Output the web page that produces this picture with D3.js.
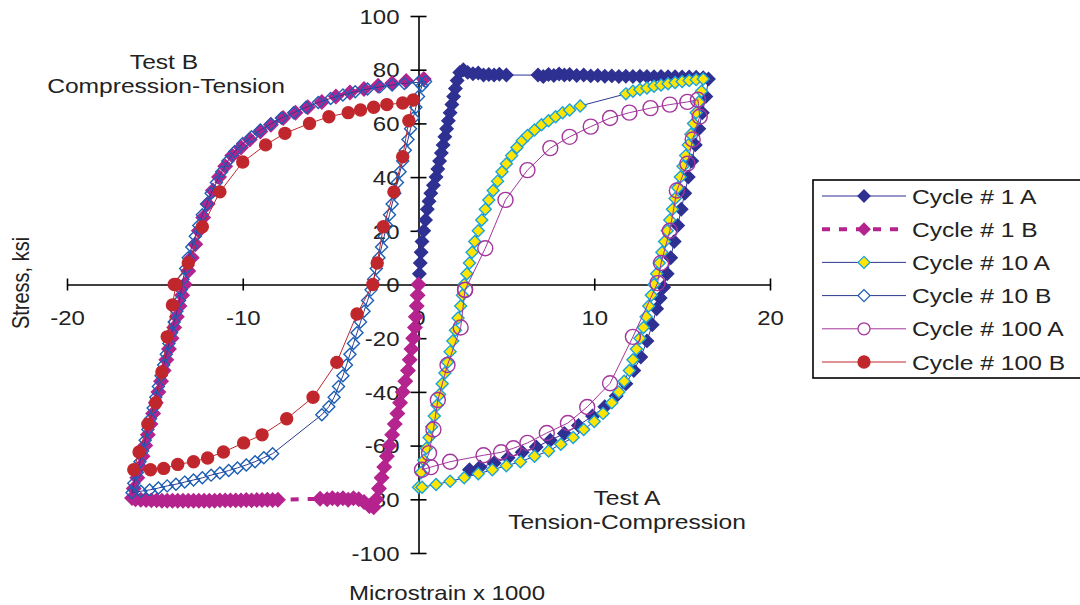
<!DOCTYPE html>
<html>
<head>
<meta charset="utf-8">
<script src="https://cdn.jsdelivr.net/npm/d3@7"></script>
<style>
  body { margin: 0; background: #fff; }
  svg { font-family: "Liberation Sans", Arial, sans-serif; }
</style>
</head>
<body>
<div id="chart"></div>
<script>
// chart values, [strain x1000, stress ksi]

var xTicks = [-20, -10, 0, 10, 20];
var yTicks = [-100, -80, -60, -40, -20, 0, 20, 40, 60, 80, 100];

var seriesNames = ["Cycle # 1 A", "Cycle # 1 B", "Cycle # 10 A", "Cycle # 10 B", "Cycle # 100 A", "Cycle # 100 B"];

var cycle1A = [[0,0],[0.05,4],[0.1,8],[0.15,12],[0.2,16],[0.3,20],[0.4,24],[0.5,28],[0.6,31],[0.7,34],[0.85,37],[1.0,40],
  [1.1,43],[1.2,46],[1.3,49],[1.4,52],[1.5,55],[1.6,58],[1.7,61],[1.8,64],[1.9,67],[2.0,70],[2.1,73],[2.2,76],[2.35,79],
  [2.55,80],[2.8,79],[3.1,78.5],[3.4,78.8],[3.7,78],[4.0,78.2],[4.3,78],[4.6,78.3],[5.0,78],[6.8,78],[7.1,77.5],[7.4,78.2],
  [7.7,77.8],[8.0,78.4],[8.3,78],[8.6,78.2],[9.0,77.8],[9.4,78],[9.8,77.7],[10.2,77.8],[10.6,77.6],[11.0,77.7],[11.4,77.5],
  [11.8,77.6],[12.2,77.5],[12.6,77.6],[13.0,77.5],[13.4,77.4],[13.8,77.5],[14.2,77.4],[14.6,77.4],[15.0,77.3],[15.4,77.3],
  [15.8,77.2],[16.2,77],[16.5,76.5],[16.35,70],[16.15,64],[15.95,58],[15.75,52],[15.55,46],[15.35,40],[15.15,34],
  [14.95,28],[14.75,22],[14.55,16],[14.35,10],[14.15,4],[13.95,-1],[13.75,-5],[13.55,-9],[13.3,-15],[13.0,-21],
  [12.65,-27],[12.25,-32],[11.8,-37],[11.25,-41.5],[10.6,-45.5],[9.9,-49],[9.1,-52.5],[8.3,-55.5],[7.5,-58],[6.7,-60.5],
  [5.9,-62.5],[5.1,-64.5],[4.3,-66.5],[3.5,-68],[2.9,-69]];

var cycle1B = [[0,0],[-0.05,-4],[-0.1,-8],[-0.15,-12],[-0.2,-16],[-0.3,-20],[-0.4,-24],[-0.5,-28],[-0.6,-32],[-0.75,-36],
  [-0.9,-40],[-1.05,-44],[-1.2,-48],[-1.35,-52],[-1.5,-56],[-1.65,-60],[-1.8,-64],[-1.95,-68],[-2.1,-72],[-2.25,-76],
  [-2.4,-80],[-2.55,-83],[-2.8,-82.5],[-3.1,-81],[-3.4,-80],[-3.7,-79.6],[-4.0,-80.2],[-4.3,-79.6],[-4.6,-80],[-4.9,-79.6],
  [-5.2,-80],[-5.6,-79.8],[-8.0,-80.2],[-8.3,-80.3],[-8.6,-80.2],[-8.9,-80.3],[-9.2,-80.3],[-9.5,-80.4],[-9.8,-80.3],
  [-10.1,-80.4],[-10.4,-80.4],[-10.7,-80.4],[-11.0,-80.4],[-11.3,-80.4],[-11.6,-80.5],[-11.9,-80.5],[-12.2,-80.5],
  [-12.5,-80.5],[-12.8,-80.5],[-13.1,-80.5],[-13.4,-80.5],[-13.7,-80.5],[-14.0,-80.5],[-14.3,-80.5],[-14.6,-80.5],
  [-14.9,-80.4],[-15.2,-80.4],[-15.5,-80.3],[-15.8,-80.2],[-16.1,-80],[-16.3,-79.5],[-16.2,-76],[-16.0,-72],[-15.85,-68],
  [-15.7,-64],[-15.55,-60],[-15.4,-56],[-15.25,-52],[-15.1,-48],[-14.95,-44],[-14.8,-40],[-14.65,-36],[-14.5,-32],
  [-14.35,-28],[-14.2,-24],[-14.05,-20],[-13.9,-16],[-13.75,-12],[-13.6,-8],[-13.45,-4],[-13.3,0],[-13.1,5],[-12.9,10],
  [-12.7,15],[-12.5,20],[-12.25,25],[-12.0,30],[-11.7,35],[-11.35,40],[-11.0,44],[-10.6,48],[-10.1,51],[-9.6,54],[-9.0,57],
  [-8.4,59.5],[-7.7,62],[-7.0,64],[-6.3,66],[-5.5,68],[-4.7,70],[-3.9,71.5],[-3.1,72.8],[-2.3,74],[-1.5,75],[-0.7,75.8],
  [0.3,76.5]];

var cycle10A = [[0,-75.5],[0.15,-70],[0.3,-65.5],[0.45,-61],[0.6,-57],[0.75,-53],[0.9,-49],[1.05,-45],[1.2,-41],[1.35,-37],
  [1.5,-33],[1.65,-29],[1.8,-25],[1.95,-21],[2.1,-17],[2.25,-12.5],[2.4,-8],[2.5,-4],[2.6,0],[2.75,4],[2.9,8],[3.05,12],
  [3.2,16],[3.4,20],[3.6,24],[3.8,28],[4.0,31.5],[4.25,35],[4.5,38.5],[4.75,42],[5.0,45],[5.3,48],[5.6,51],[5.9,53.5],
  [6.2,55.5],[6.6,57.5],[7.0,59.5],[7.4,61],[7.8,62.5],[8.2,64],[8.6,65],[9.2,66.5],[11.8,71],[12.2,72],[12.6,72.6],
  [13.0,73.2],[13.4,73.8],[13.8,74.3],[14.2,74.8],[14.6,75.2],[15.0,75.6],[15.4,76],[15.8,76.3],[16.2,76.5],[16.1,72],
  [15.95,68],[15.8,64],[15.65,60],[15.5,56],[15.35,52],[15.2,48],[15.05,44],[14.9,40],[14.75,36],[14.6,32],[14.45,28],
  [14.3,24],[14.15,20],[14.0,16],[13.85,12],[13.7,8],[13.55,4],[13.4,0],[13.25,-4],[13.1,-8],[12.95,-12],[12.8,-16],
  [12.6,-20],[12.4,-24],[12.2,-28],[12.0,-32],[11.7,-36],[11.4,-40],[11.0,-44],[10.5,-48],[10.0,-51],[9.4,-54],[8.8,-57],
  [8.1,-59.5],[7.4,-62],[6.6,-64],[5.8,-66],[5.0,-67.5],[4.2,-69],[3.4,-70.5],[2.6,-72],[1.8,-73.3],[1.0,-74.5],[0.2,-75.5]];

var cycle10B = [[0.2,74],[0,70],[-0.15,66],[-0.3,62],[-0.45,58],[-0.6,54],[-0.75,50],[-0.9,46],[-1.05,42],[-1.2,38],
  [-1.35,34],[-1.5,30],[-1.65,26],[-1.8,22],[-1.95,18],[-2.1,14],[-2.25,10],[-2.4,6],[-2.55,2],[-2.7,-2],[-2.9,-6],
  [-3.1,-10],[-3.3,-14],[-3.5,-18],[-3.7,-22],[-3.9,-26],[-4.1,-30],[-4.3,-34],[-4.55,-38],[-4.8,-42],[-5.1,-45.5],
  [-5.5,-48.5],[-8.3,-63],[-8.8,-64.5],[-9.3,-66],[-9.8,-67.2],[-10.3,-68.3],[-10.8,-69.3],[-11.3,-70.2],[-11.8,-71],
  [-12.3,-72],[-12.8,-72.8],[-13.3,-73.6],[-13.8,-74.4],[-14.3,-75],[-14.8,-75.8],[-15.3,-76.5],[-15.8,-77],[-16.3,-77.6],
  [-16.2,-74],[-16.0,-70],[-15.85,-66],[-15.7,-62],[-15.55,-58],[-15.4,-54],[-15.25,-50],[-15.1,-46],[-14.95,-42],
  [-14.8,-38],[-14.65,-34],[-14.5,-30],[-14.35,-26],[-14.2,-22],[-14.05,-18],[-13.9,-14],[-13.75,-10],[-13.6,-6],
  [-13.5,-2],[-13.4,2],[-13.25,6],[-13.1,10],[-12.9,14],[-12.7,18],[-12.5,22],[-12.3,26],[-12.05,30],[-11.8,34],
  [-11.5,38],[-11.2,42],[-10.85,46],[-10.45,49.5],[-10.0,52.5],[-9.5,55],[-9.0,57.5],[-8.4,59.8],[-7.8,62],[-7.1,64],
  [-6.4,66],[-5.7,67.8],[-5.0,69.3],[-4.3,70.6],[-3.6,71.8],[-2.9,72.8],[-2.2,73.6],[-1.5,74.3],[-0.8,74.9],[0,75.3],
  [0.4,75.6]];

var cycle100A = [[2.65,-2],[3.8,13.5],[4.95,31.5],[6.2,42.6],[7.5,50.8],[8.6,55],[9.8,58.8],[10.9,62],[12.0,64],
  [13.2,65.7],[14.3,67],[15.3,68],[15.9,68.8],[16.0,62.5],[15.6,54],[15.3,45],[14.7,35],[14.3,20],[13.8,8],[13.6,0.5],
  [12.2,-19.5],[10.9,-36.8],[9.6,-45.6],[8.5,-51.6],[7.3,-55.3],[6.2,-59],[5.4,-61],[4.7,-62.5],[3.7,-63.6],[1.8,-66],
  [0.7,-68],[0.2,-69],[0.6,-62.8],[0.85,-54],[1.1,-43],[1.65,-30],[2.4,-16],[2.65,-2]];

var cycle100B = [[-13.9,0],[-13.1,8],[-12.3,21.5],[-11.3,34.5],[-10,45.6],[-8.7,52],[-7.6,56.3],[-6.2,60],[-5.1,62.5],
  [-4,64],[-3.3,65],[-2.55,66],[-1.8,67],[-0.9,67.6],[-0.3,68.7],[-0.55,61],[-0.9,47.6],[-1.4,34.5],[-2,21.5],[-2.35,8],
  [-2.6,0],[-3.5,-11],[-4.65,-29],[-6,-42],[-7.5,-50],[-8.9,-56],[-9.95,-59],[-11.1,-62.4],[-12,-64.6],[-12.8,-66],
  [-13.7,-67],[-14.5,-68.5],[-15.25,-69],[-16.2,-69],[-15.9,-62.4],[-15.4,-52],[-14.95,-44],[-14.6,-32.6],[-14.3,-19.5],
  [-14,-7.6],[-13.8,0]];

// drawing the chart area

var svgWidth = 1080;
var svgHeight = 605;

var svg = d3.select("#chart")
  .append("svg")
  .attr("width", svgWidth)
  .attr("height", svgHeight);

var xScale = d3.scaleLinear().domain([-20, 20]).range([67, 770]);
var yScale = d3.scaleLinear().domain([-100, 100]).range([553, 16]);

var x0 = xScale(0);
var y0 = yScale(0);
var textStretch = 1.2;

// axes crossing at the origin
var xAxis = svg.append("g")
  .attr("transform", "translate(0," + y0 + ")")
  .call(d3.axisBottom(xScale).tickValues(xTicks).tickSize(6).tickSizeOuter(0).tickFormat(d3.format("d")));

var yAxis = svg.append("g")
  .attr("transform", "translate(" + x0 + ",0)")
  .call(d3.axisLeft(yScale).tickValues(yTicks).tickSize(8).tickSizeOuter(0).tickFormat(d3.format("d")));

xAxis.selectAll(".tick line").attr("y1", -6).attr("y2", 6);
yAxis.selectAll(".tick line").attr("x1", -8).attr("x2", 8);
svg.selectAll(".domain, .tick line").attr("stroke", "#000").attr("stroke-width", 1.6);

xAxis.selectAll(".tick text")
  .attr("y", 0).attr("dy", 0)
  .attr("transform", "translate(0,40) scale(" + textStretch + ",1)")
  .style("font-size", "20px").attr("fill", "#222")
  .text(function (d) { return d < 0 ? "-" + Math.abs(d) : d; });

yAxis.selectAll(".tick text")
  .attr("x", 0).attr("dy", "0.36em")
  .attr("transform", "translate(-19,0) scale(" + textStretch + ",1)")
  .style("font-size", "20px").attr("fill", "#222")
  .text(function (d) { return d < 0 ? "-" + Math.abs(d) : d; });

// series look
var styles = [
  { data: cycle1A, shape: "diamond", size: 6.5, fill: "#2E3192", stroke: "#2E3192", line: "#2E3192", lw: 1 },
  { data: cycle1B, shape: "diamond", size: 7, fill: "#B4238E", stroke: "#B4238E", line: "#B4238E", lw: 4, dash: "8,9" },
  { data: cycle10A, shape: "diamond", size: 6, fill: "#FFE500", stroke: "#1AA3DC", line: "#2B3990", lw: 1 },
  { data: cycle10B, shape: "diamond", size: 6, fill: "none", stroke: "#1B5EB5", line: "#2B3990", lw: 1 },
  { data: cycle100A, shape: "circle", size: 7.5, fill: "none", stroke: "#A3359C", line: "#A3359C", lw: 1 },
  { data: cycle100B, shape: "circle", size: 6, fill: "#C0272D", stroke: "#C0272D", line: "#C0272D", lw: 1 }
];

function markerPath(shape, s) {
  if (shape === "diamond") {
    return "M0," + (-s) + "L" + s + ",0L0," + s + "L" + (-s) + ",0Z";
  }
  return "M" + (-s) + ",0A" + s + "," + s + " 0 1,0 " + s + ",0A" + s + "," + s + " 0 1,0 " + (-s) + ",0Z";
}

var line = d3.line()
  .x(function (d) { return xScale(d[0]); })
  .y(function (d) { return yScale(d[1]); });

var plot = svg.append("g");

styles.forEach(function (st) {
  var g = plot.append("g");
  g.append("path")
    .datum(st.data)
    .attr("d", line)
    .attr("fill", "none")
    .attr("stroke", st.line)
    .attr("stroke-width", st.lw)
    .attr("stroke-dasharray", st.dash || null);
  g.selectAll("path.mark")
    .data(st.data)
    .enter()
    .append("path")
    .attr("class", "mark")
    .attr("d", markerPath(st.shape, st.size))
    .attr("transform", function (d) { return "translate(" + xScale(d[0]) + "," + yScale(d[1]) + ")"; })
    .attr("fill", st.fill)
    .attr("stroke", st.stroke)
    .attr("stroke-width", 1.4);
});

// annotations
function label(x, y, txt, size) {
  svg.append("text")
    .attr("transform", "translate(" + x + "," + y + ") scale(" + textStretch + ",1)")
    .attr("text-anchor", "middle")
    .style("font-size", size + "px")
    .attr("fill", "#222")
    .text(txt);
}

label(164, 69, "Test B", 20.5);
label(166, 93, "Compression-Tension", 20.5);
label(627, 505, "Test A", 20.5);
label(627, 529, "Tension-Compression", 20.5);
label(447, 600, "Microstrain x 1000", 20);

svg.append("text")
  .attr("transform", "translate(29,283) rotate(-90) scale(1," + textStretch + ")")
  .attr("text-anchor", "middle")
  .style("font-size", "20px")
  .attr("fill", "#222")
  .text("Stress, ksi");

// legend
var legend = svg.append("g");
legend.append("rect")
  .attr("x", 813).attr("y", 180)
  .attr("width", 300).attr("height", 198)
  .attr("fill", "#fff")
  .attr("stroke", "#000")
  .attr("stroke-width", 1.6);

var rowY = d3.scaleLinear().domain([0, 5]).range([196, 362]);

styles.forEach(function (st, i) {
  var y = rowY(i);
  legend.append("line")
    .attr("x1", 822).attr("x2", 906)
    .attr("y1", y).attr("y2", y)
    .attr("stroke", st.line)
    .attr("stroke-width", st.lw)
    .attr("stroke-dasharray", st.dash || null);
  legend.append("path")
    .attr("d", markerPath(st.shape, 6))
    .attr("transform", "translate(864," + y + ")")
    .attr("fill", st.fill === "none" ? "#fff" : st.fill)
    .attr("stroke", st.stroke)
    .attr("stroke-width", 1.3);
  legend.append("text")
    .attr("transform", "translate(912," + (y + 7.5) + ") scale(" + textStretch + ",1)")
    .style("font-size", "20.5px")
    .attr("fill", "#222")
    .text(seriesNames[i]);
});
</script>
</body>
</html>
